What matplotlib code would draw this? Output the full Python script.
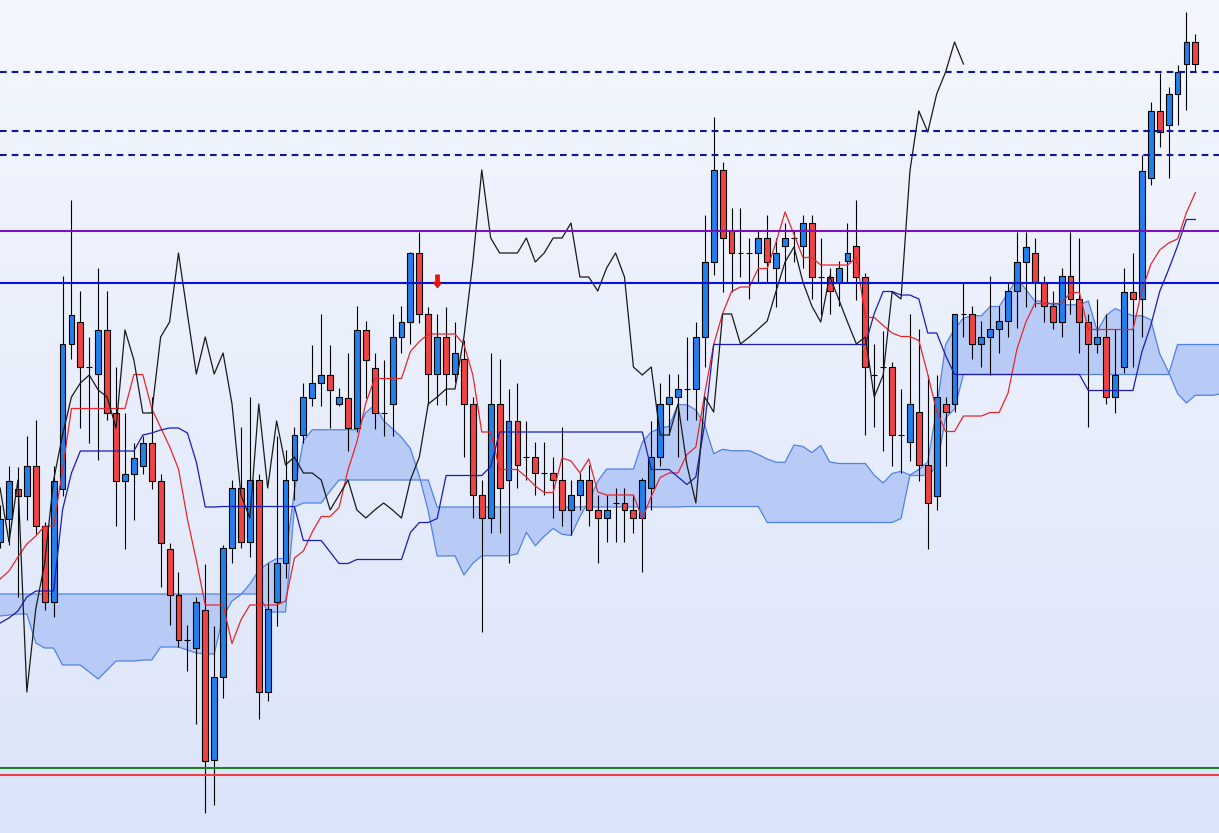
import numpy as np
import pandas as pd
import matplotlib
matplotlib.use("Agg")
import matplotlib.pyplot as plt
from matplotlib.path import Path
from matplotlib.colors import LinearSegmentedColormap

# ---------------- data (price units) ----------------
open_ = [458, 481, 511, 504, 534, 474, 398, 511, 656, 678, 633, 626, 670, 587, 519, 526, 534, 557, 519, 451,
         405, 360, 352, 390, 240, 323, 452, 512, 458, 520, 308, 398, 437, 520, 565, 602, 617, 625, 596, 602,
         572, 670, 632, 587, 596, 663, 678, 747, 686, 626, 663, 626, 641, 596, 505, 482, 596, 520, 579, 543,
         543, 527, 527, 520, 490, 505, 520, 490, 482, 497, 497, 490, 482, 512, 543, 596, 603, 611, 611, 663,
         738, 830, 769, 747, 747, 747, 762, 732, 754, 762, 754, 777, 723, 723, 717, 739, 754, 723, 625, 633,
         633, 565, 558, 588, 535, 504, 596, 596, 686, 686, 656, 663, 671, 679, 709, 738, 747, 717, 694, 678,
         724, 701, 678, 656, 663, 603, 633, 708, 701, 822, 889, 875, 906, 936, 958]
high = [495, 534, 533, 564, 580, 478, 534, 724, 800, 709, 663, 732, 709, 633, 587, 557, 564, 603, 526, 457,
        428, 375, 403, 436, 374, 455, 520, 573, 603, 526, 437, 564, 550, 573, 617, 655, 686, 655, 612, 647,
        694, 679, 647, 640, 686, 694, 748, 768, 693, 686, 693, 678, 660, 603, 520, 647, 641, 611, 617, 579,
        558, 558, 543, 573, 520, 527, 535, 505, 505, 512, 512, 505, 522, 579, 617, 626, 626, 663, 678, 785,
        883, 838, 792, 792, 762, 769, 785, 762, 777, 769, 785, 785, 762, 732, 739, 777, 800, 727, 656, 669,
        638, 611, 686, 671, 625, 625, 603, 686, 717, 694, 679, 724, 694, 717, 768, 768, 762, 724, 709, 732,
        768, 762, 686, 701, 686, 671, 732, 747, 845, 898, 927, 913, 935, 988, 966]
low = [452, 455, 403, 480, 466, 390, 383, 504, 641, 572, 557, 540, 580, 474, 451, 480, 526, 511, 413, 375,
       353, 329, 276, 187, 195, 302, 437, 452, 443, 281, 299, 374, 422, 500, 557, 594, 594, 572, 594, 549,
       568, 602, 571, 564, 564, 647, 656, 677, 595, 595, 595, 618, 543, 482, 368, 467, 467, 437, 512, 520,
       505, 505, 482, 474, 465, 490, 474, 437, 458, 458, 458, 467, 428, 490, 534, 565, 543, 580, 580, 633,
       725, 708, 708, 723, 701, 717, 717, 693, 717, 738, 732, 701, 685, 686, 694, 717, 700, 565, 573, 549,
       534, 527, 539, 519, 451, 490, 534, 588, 663, 641, 633, 625, 647, 663, 672, 693, 693, 678, 671, 663,
       686, 647, 573, 647, 596, 587, 627, 633, 663, 815, 853, 822, 875, 890, 929]
close = [481, 519, 504, 534, 474, 398, 519, 656, 685, 633, 633, 670, 587, 519, 526, 542, 557, 519, 457, 405,
         360, 360, 398, 239, 323, 452, 512, 458, 520, 308, 391, 437, 520, 565, 603, 617, 625, 610, 603, 572,
         670, 640, 587, 587, 663, 678, 747, 686, 626, 663, 626, 647, 596, 505, 482, 596, 512, 579, 535, 543,
         527, 527, 520, 490, 505, 520, 490, 482, 490, 497, 490, 482, 520, 543, 596, 603, 611, 611, 663, 738,
         830, 762, 747, 747, 747, 762, 738, 747, 762, 762, 777, 723, 723, 709, 732, 747, 723, 633, 625, 633,
         565, 565, 596, 535, 497, 603, 588, 686, 686, 656, 663, 671, 679, 709, 738, 753, 718, 694, 678, 724,
         701, 678, 656, 663, 603, 625, 708, 701, 829, 889, 868, 906, 928, 958, 936]

tenkan_head = [421, 429, 443, 456, 464, 474, 474, 530]
kijun_head = [377, 382, 389, 403, 409, 409, 409, 490, 527, 549, 549, 549, 549, 549, 549, 549,
              565, 567, 570, 572, 572, 567, 538, 493, 493]
span_a_head = [384, 385, 386, 386, 357, 352, 352, 335, 335, 335, 328, 321, 330, 339, 339, 339,
               340, 340, 353, 353, 353, 350, 347, 346, 346, 383]
span_b_head = [406] * 30 + [388, 388, 388, 493, 497, 497, 497, 509] + [520] * 11 + [493] * 28

# horizontal levels
dashed_levels = [928, 869, 845]
purple_level = 769
blue_level = 717
green_level = 232
red_level = 225

# signal arrow
arrow_idx = [49]
arrow_price = [719.5]

# ---------------- indicators ----------------
n = len(close)
idx = np.arange(n)
H = pd.Series(high, dtype=float)
L = pd.Series(low, dtype=float)
C = np.array(close, dtype=float)

tenkan = ((H.rolling(9).max() + L.rolling(9).min()) / 2).to_numpy()
tenkan[:len(tenkan_head)] = tenkan_head
kijun = ((H.rolling(26).max() + L.rolling(26).min()) / 2).to_numpy()
kijun[:len(kijun_head)] = kijun_head
mid52 = ((H.rolling(52).max() + L.rolling(52).min()) / 2).to_numpy()

m = 138  # cloud indices shown (extends past last candle)
span_a = np.full(m, np.nan)
span_b = np.full(m, np.nan)
for i in range(m):
    if i < len(span_a_head):
        span_a[i] = span_a_head[i]
    else:
        span_a[i] = (tenkan[i - 26] + kijun[i - 26]) / 2
    if i < len(span_b_head):
        span_b[i] = span_b_head[i]
    else:
        span_b[i] = mid52[i - 26]
cidx = np.arange(m)

chikou = C[26:]
chidx = np.arange(len(chikou))

# ---------------- figure ----------------
fig = plt.figure(figsize=(12.19, 8.33), dpi=100)
ax = fig.add_axes([0, 0, 1, 1])
x0, x1 = -0.01, -0.01 + 1219 / 8.92
y0, y1 = 167, 1000
ax.set_xlim(x0, x1)
ax.set_ylim(y0, y1)
ax.axis("off")

bg = LinearSegmentedColormap.from_list("bg", ["#dbe4f9", "#f4f7fe"])
ax.imshow(np.linspace(0, 1, 256).reshape(-1, 1), cmap=bg, origin="lower",
          extent=[x0, x1, y0, y1], aspect="auto", zorder=0)

# cloud
ax.fill_between(cidx, span_a, span_b, color="#b8cbf7", lw=0, zorder=1)
ax.plot(cidx, span_a, color="#5282e2", lw=0.9, zorder=1.5)
ax.plot(cidx, span_b, color="#5282e2", lw=0.9, zorder=1.5)

# candles
O = np.array(open_, dtype=float)
ax.vlines(idx, low, high, color="black", lw=0.8, zorder=2)
cols = np.where(C > O, "#2180ec", np.where(C < O, "#f04444", "black"))
ax.bar(idx, C - O, bottom=O, width=0.66, color=cols, edgecolor="black",
       linewidth=0.8, zorder=3)

# ichimoku lines
ax.plot(idx, tenkan, color="#e8262c", lw=0.9, zorder=4)
ax.plot(idx, kijun, color="#1c1cb8", lw=0.9, zorder=4)
ax.plot(chidx, chikou, color="#1a1a1a", lw=0.9, zorder=4)

# levels
for lv in dashed_levels:
    ax.axhline(lv, color="#14149e", lw=1.5, ls=(0, (3.2, 2.4)), zorder=5)
ax.axhline(purple_level, color="#7a12b4", lw=1.5, zorder=5)
ax.axhline(blue_level, color="#0a12d6", lw=1.5, zorder=5)
ax.axhline(green_level, color="#1b7f2a", lw=1.5, zorder=5)
ax.axhline(red_level, color="#e6403f", lw=1.5, zorder=5)

# down arrow marker
verts = [(-0.3, 1.0), (0.3, 1.0), (0.3, -0.1), (0.7, -0.1), (0.0, -1.0),
         (-0.7, -0.1), (-0.3, -0.1), (-0.3, 1.0)]
codes = [Path.MOVETO] + [Path.LINETO] * 6 + [Path.CLOSEPOLY]
arrow = Path(verts, codes)
ax.scatter(arrow_idx, arrow_price, marker=arrow, s=(9.5) ** 2, color="#ee1111",
           edgecolors="#b00000", linewidths=0.4, zorder=6)

fig.savefig("out.png", dpi=100)
